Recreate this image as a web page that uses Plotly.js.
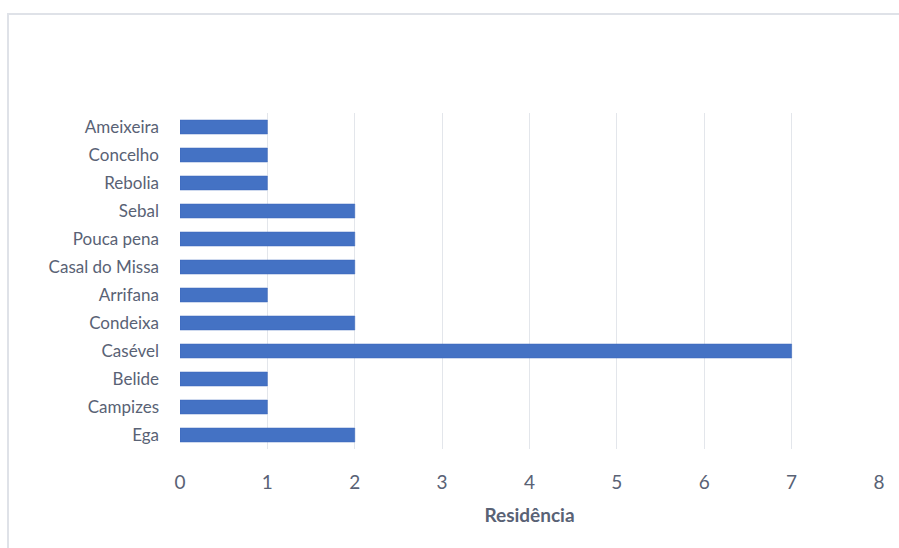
<!DOCTYPE html>
<html>
<head>
<meta charset="utf-8">
<script src="https://cdn.plot.ly/plotly-3.0.1.min.js"></script>
<style>
html,body{margin:0;padding:0;background:#fff;}
#frame{position:absolute;left:7px;top:13px;width:1000px;height:1000px;border:2px solid #dfe2e8;box-sizing:border-box;pointer-events:none;}
#chart{position:absolute;left:0;top:0;width:899px;height:548px;}
</style>
</head>
<body>
<div id="chart"></div>
<div id="frame"></div>
<script>
const categories = ["Ega","Campizes","Belide","Casével","Condeixa","Arrifana","Casal do Missa","Pouca pena","Sebal","Rebolia","Concelho","Ameixeira"];
const values = [2,1,1,7,2,1,2,2,2,1,1,1];
const xTicks = [0,1,2,3,4,5,6,7,8];

const trace = {
  type: 'bar',
  orientation: 'h',
  y: categories,
  x: values,
  width: 0.5,
  marker: {color: '#4472C4', line: {color: '#3a66b8', width: 0.5}},
  hoverinfo: 'x+y'
};

const txtColor = '#596275';
const fam = 'Lato, Liberation Sans, sans-serif';
const font = {family: fam, size: 17, color: txtColor};

const layout = {
  width: 899, height: 548,
  margin: {l: 180, r: 20, t: 113, b: 99},
  paper_bgcolor: '#ffffff', plot_bgcolor: '#ffffff',
  showlegend: false,
  font: font,
  bargap: 0.5,
  xaxis: {
    range: [0, 8],
    tickvals: xTicks,
    ticktext: xTicks.map(String),
    showgrid: true, gridcolor: '#e3e6eb', gridwidth: 1,
    zeroline: false, showline: false, ticks: '',
    ticklabelstandoff: 20,
    tickfont: {family: fam, size: 19, color: txtColor},
    title: {text: '<b>Residência</b>', font: {family: fam, size: 19, color: txtColor}, standoff: 16},
    fixedrange: true
  },
  yaxis: {
    type: 'category',
    categoryorder: 'array', categoryarray: categories,
    range: [-0.5, categories.length - 0.5],
    showgrid: false, zeroline: false, showline: false, ticks: '',
    ticklabelstandoff: 20,
    tickfont: font,
    fixedrange: true
  }
};

Plotly.newPlot('chart', [trace], layout, {displayModeBar: false, staticPlot: true});
</script>
</body>
</html>
